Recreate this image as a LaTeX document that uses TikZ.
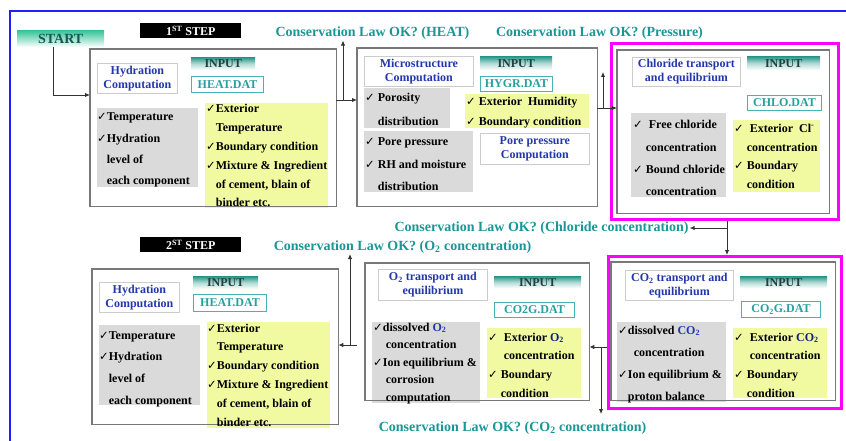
\documentclass[tikz,border=0pt]{standalone}
\usepackage{fontspec}
\setmainfont{Liberation Serif}
\newfontfamily\dejavu{DejaVu Sans}
\usetikzlibrary{arrows.meta,calc}
\definecolor{lawteal}{RGB}{25,150,150}
\definecolor{titleblue}{RGB}{35,55,170}
\definecolor{darkblue}{RGB}{20,30,130}
\definecolor{yel}{RGB}{241,250,160}
\definecolor{stip}{RGB}{218,218,218}
\definecolor{mag}{RGB}{255,0,255}
\definecolor{frameblue}{RGB}{30,30,255}
\definecolor{boxgray}{RGB}{120,120,120}
\definecolor{startteal}{RGB}{50,195,150}
\definecolor{startdark}{RGB}{25,85,85}
\definecolor{inputteal}{RGB}{35,150,135}
\definecolor{inputtext}{RGB}{40,60,60}
\definecolor{dattext}{RGB}{40,160,160}
\definecolor{datborder}{RGB}{70,180,180}
\newcommand{\ck}{{\dejavu\fontsize{11.5}{11.5}\selectfont ✓}}
\newcommand{\ckind}{\phantom{\ck}}
\newcommand{\linesblock}[1]{\begin{tabular}[t]{@{}l@{}}#1\end{tabular}}
\newcommand{\bodyfont}[1]{\fontsize{12}{#1}\selectfont\bfseries}
\newcommand{\rbox}[7]{\node[#1, anchor=north west, minimum width={(#5)-(#3)}, minimum height={(#6)-(#4)}] (#2) at (#3,#4) {#7};}
\begin{document}
\begin{tikzpicture}[x=1pt,y=-1pt,
  mainbox/.style={fill=white, inner sep=0},
  boxline/.style={draw=boxgray, line width=1.1pt},
  pinkframe/.style={draw=mag, line width=3pt, fill=white, inner sep=0},
  titlebox/.style={draw=black!20, line width=0.8pt, fill=white, text=titleblue, align=center, font=\fontsize{12}{14}\selectfont\bfseries, inner sep=0},
  inputbar/.style={top color=inputteal, bottom color=white, middle color=inputteal!35, text=inputtext, font=\fontsize{12}{13}\selectfont\bfseries, inner sep=0},
  dat/.style={draw=datborder, line width=1pt, fill=white, text=dattext, font=\fontsize{12}{13}\selectfont\bfseries, inner sep=0},
  gbox/.style={fill=stip, inner sep=0},
  ybox/.style={fill=yel, inner sep=0},
  txt/.style={anchor=base west, inner sep=0, text=black},
  law/.style={text=lawteal, font=\fontsize{14}{16}\selectfont\bfseries, inner sep=1pt},
  stepbox/.style={fill=black, text=white, font=\fontsize{12}{13}\selectfont\bfseries, inner sep=0},
  startbox/.style={top color=startteal, bottom color=white, text=startdark, font=\fontsize{14}{16}\selectfont\bfseries, inner sep=0},
  arr/.style={draw=black!80, line width=0.9pt, -{Latex[length=5pt,width=4.5pt]}}
]
\useasboundingbox (0,0) rectangle (846,441);
% outer blue frame
\draw[frameblue, line width=2pt] (846,11) -- (10,11) -- (10,441);

% labels on top
\rbox{startbox}{start}{17}{30}{104}{47}{START}
\rbox{stepbox}{step1}{140}{23}{241}{38}{1\textsuperscript{ST} STEP}
\rbox{stepbox}{step2}{140}{237}{241}{252}{2\textsuperscript{ST} STEP}
\node[law] (heat) at (372.5,33) {Conservation Law OK? (HEAT)};
\node[law] (press) at (599.5,33) {Conservation Law OK? (Pressure)};
\node[law] (chl) at (541.5,228) {Conservation Law OK? (Chloride concentration)};
\node[law] (otwo) at (402.5,247) {Conservation Law OK? (O\textsubscript{2} concentration)};
\node[law] (cotwo) at (512.5,428) {Conservation Law OK? (CO\textsubscript{2} concentration)};

% main boxes
\rbox{mainbox}{box1}{90}{49}{336}{206}{}
\rbox{mainbox}{box2}{357}{48}{597}{206}{}
\rbox{pinkframe}{pink1}{610}{42}{837}{218}{}
\rbox{mainbox}{box3}{617}{50}{829}{213}{}
\rbox{mainbox}{box4}{92}{269}{338}{424}{}
\rbox{mainbox}{box5}{365}{263}{589}{400}{}
\rbox{pinkframe}{pink2}{607}{255}{840}{407}{}
\rbox{mainbox}{box6}{611}{262}{835}{400}{}

% title boxes
\rbox{titlebox}{t1}{97}{63}{177}{93}{Hydration\\Computation}
\rbox{titlebox}{t2}{364}{56}{473}{86}{Microstructure\\Computation}
\rbox{titlebox}{t2b}{480}{133}{589}{164}{Pore pressure\\Computation}
\rbox{titlebox}{t3}{632}{57}{740}{86}{Chloride transport\\and equilibrium}
\rbox{titlebox}{t4}{99}{282}{179}{312}{Hydration\\Computation}
\rbox{titlebox}{t5}{378}{269}{487}{300}{O\textsubscript{2} transport and\\equilibrium}
\rbox{titlebox}{t6}{625}{270}{733}{300}{CO\textsubscript{2} transport and\\equilibrium}

% INPUT bars
\rbox{inputbar}{i1}{191}{57}{255}{70}{INPUT}
\rbox{inputbar}{i2}{480}{56}{552}{70}{INPUT}
\rbox{inputbar}{i3}{747}{56}{820}{70}{INPUT}
\rbox{inputbar}{i4}{193}{276}{258}{289}{INPUT}
\rbox{inputbar}{i5}{494}{276}{581}{288}{INPUT}
\rbox{inputbar}{i6}{740}{276}{827}{288}{INPUT}

% data files
\rbox{dat}{d1}{191}{76}{263}{92}{HEAT.DAT}
\rbox{dat}{d2}{480}{76}{552}{91}{HYGR.DAT}
\rbox{dat}{d3}{747}{95}{821}{110}{CHLO.DAT}
\rbox{dat}{d4}{193}{294}{266}{311}{HEAT.DAT}
\rbox{dat}{d5}{494}{302}{574}{317}{CO2G.DAT}
\rbox{dat}{d6}{741}{301}{820}{317}{CO\textsubscript{2}G.DAT}

% grey (output) areas
\rbox{gbox}{g1}{97}{108}{198}{187}{}
\rbox{gbox}{g2a}{364}{88}{450}{128}{}
\rbox{gbox}{g2b}{364}{131}{473}{192}{}
\rbox{gbox}{g3}{631}{113}{726}{197}{}
\rbox{gbox}{g4}{99}{325}{200}{405}{}
\rbox{gbox}{g5}{372}{322}{480}{403}{}
\rbox{gbox}{g6}{617}{322}{726}{402}{}

% yellow (input) areas
\rbox{ybox}{y1}{205}{103}{328}{208}{}
\rbox{ybox}{y2}{465}{94}{589}{128}{}
\rbox{ybox}{y3}{733}{120}{820}{192}{}
\rbox{ybox}{y4}{207}{322}{330}{428}{}
\rbox{ybox}{y5}{487}{328}{581}{398}{}
\rbox{ybox}{y6}{733}{328}{827}{398}{}

% box borders over the areas
\foreach \b in {box1,box2,box3,box4,box5,box6}
  \draw[boxline] (\b.north west) rectangle (\b.south east);

% texts
\node[txt, font=\bodyfont{21.3}] (g1t) at (97,121) {\linesblock{\ck Temperature\\ \ck Hydration\\ \ckind level of\\ \ckind each component}};
\node[txt, font=\bodyfont{18.8}] (y1t) at (206,113) {\linesblock{\ck Exterior\\ \ckind Temperature\\ \ck Boundary condition\\ \ck Mixture \& Ingredient\\ \ckind of cement, blain of\\ \ckind binder etc.}};
\node[txt, font=\bodyfont{24}] (g2at) at (365,102) {\linesblock{\ck\ Porosity\\ \ckind\ distribution}};
\node[txt, font=\bodyfont{22.5}] (g2bt) at (365,146) {\linesblock{\ck\ Pore pressure\\ \ck\ RH and moisture\\ \ckind\ distribution}};
\node[txt, font=\bodyfont{20}] (y2t) at (466,106) {\linesblock{\ck\ Exterior\ \ Humidity\\ \ck\ Boundary condition}};
\node[txt, font=\bodyfont{22.3}] (g3t) at (633,129) {\linesblock{\ck\ \ Free chloride\\ \ckind\ concentration\\ \ck\ Bound chloride\\ \ckind\ concentration}};
\node[txt, font=\bodyfont{19}] (y3t) at (734,132) {\linesblock{\ck\ \ Exterior\ \ Cl\textsuperscript{-}\\ \ckind\ concentration\\ \ck\ Boundary\\ \ckind\ condition}};
\node[txt, font=\bodyfont{21.7}] (g4t) at (99,339) {\linesblock{\ck Temperature\\ \ck Hydration\\ \ckind level of\\ \ckind each component}};
\node[txt, font=\bodyfont{18.8}] (y4t) at (207,332) {\linesblock{\ck Exterior\\ \ckind Temperature\\ \ck Boundary condition\\ \ck Mixture \& Ingredient\\ \ckind of cement, blain of\\ \ckind binder etc.}};
\node[txt, font=\bodyfont{17.5}] (g5t) at (373,331) {\linesblock{\ck dissolved \textcolor{titleblue}{O\textsubscript{2}}\\ \ckind\ concentration\\ \ck Ion equilibrium \&\\ \ckind\ corrosion\\ \ckind\ computation}};
\node[txt, font=\bodyfont{18.7}] (y5t) at (488,341) {\linesblock{\ck\ \ Exterior \textcolor{darkblue}{O\textsubscript{2}}\\ \ckind\ \ concentration\\ \ck\ Boundary\\ \ckind\ condition}};
\node[txt, font=\bodyfont{22}] (g6t) at (618,334) {\linesblock{\ck dissolved \textcolor{titleblue}{CO\textsubscript{2}}\\ \ckind\ \ concentration\\ \ck Ion equilibrium \&\\ \ckind proton balance}};
\node[txt, font=\bodyfont{18.7}] (y6t) at (734,341) {\linesblock{\ck\ \ Exterior \textcolor{darkblue}{CO\textsubscript{2}}\\ \ckind\ \ concentration\\ \ck\ Boundary\\ \ckind\ condition}};

% connectors
\coordinate (j1) at (343,100);
\coordinate (j2) at (603,108);
\coordinate (j2up) at (603,72);
\coordinate (j3) at (727,228);
\coordinate (j4) at (601,347);
\coordinate (j4dn) at (601,414);
\coordinate (j5) at (357,345);
\coordinate (j6) at (350,345);
\coordinate (j6up) at (350,254);
\draw[arr] (start.south -| 53,0) |- (box1.west |- 0,95);
\draw[arr] (box1.east |- j1) -- (box2.west |- j1);
\draw[arr] (j1) -- (j1 |- heat.south);
\draw[arr] (box2.east |- j2) -- (box3.west |- j2);
\draw[arr] (j2) -- (j2up);
\draw[arr] (pink1.south -| j3) -- (pink2.north -| j3);
\draw[arr] (j3) -- (chl.east);
\draw[arr] (pink2.west |- j4) -- (box5.east |- j4);
\draw[arr] (j4) -- (j4dn);
\draw[arr] (j5) -- (box4.east |- j5);
\draw[arr] (j6) -- (j6up);
\end{tikzpicture}
\end{document}
